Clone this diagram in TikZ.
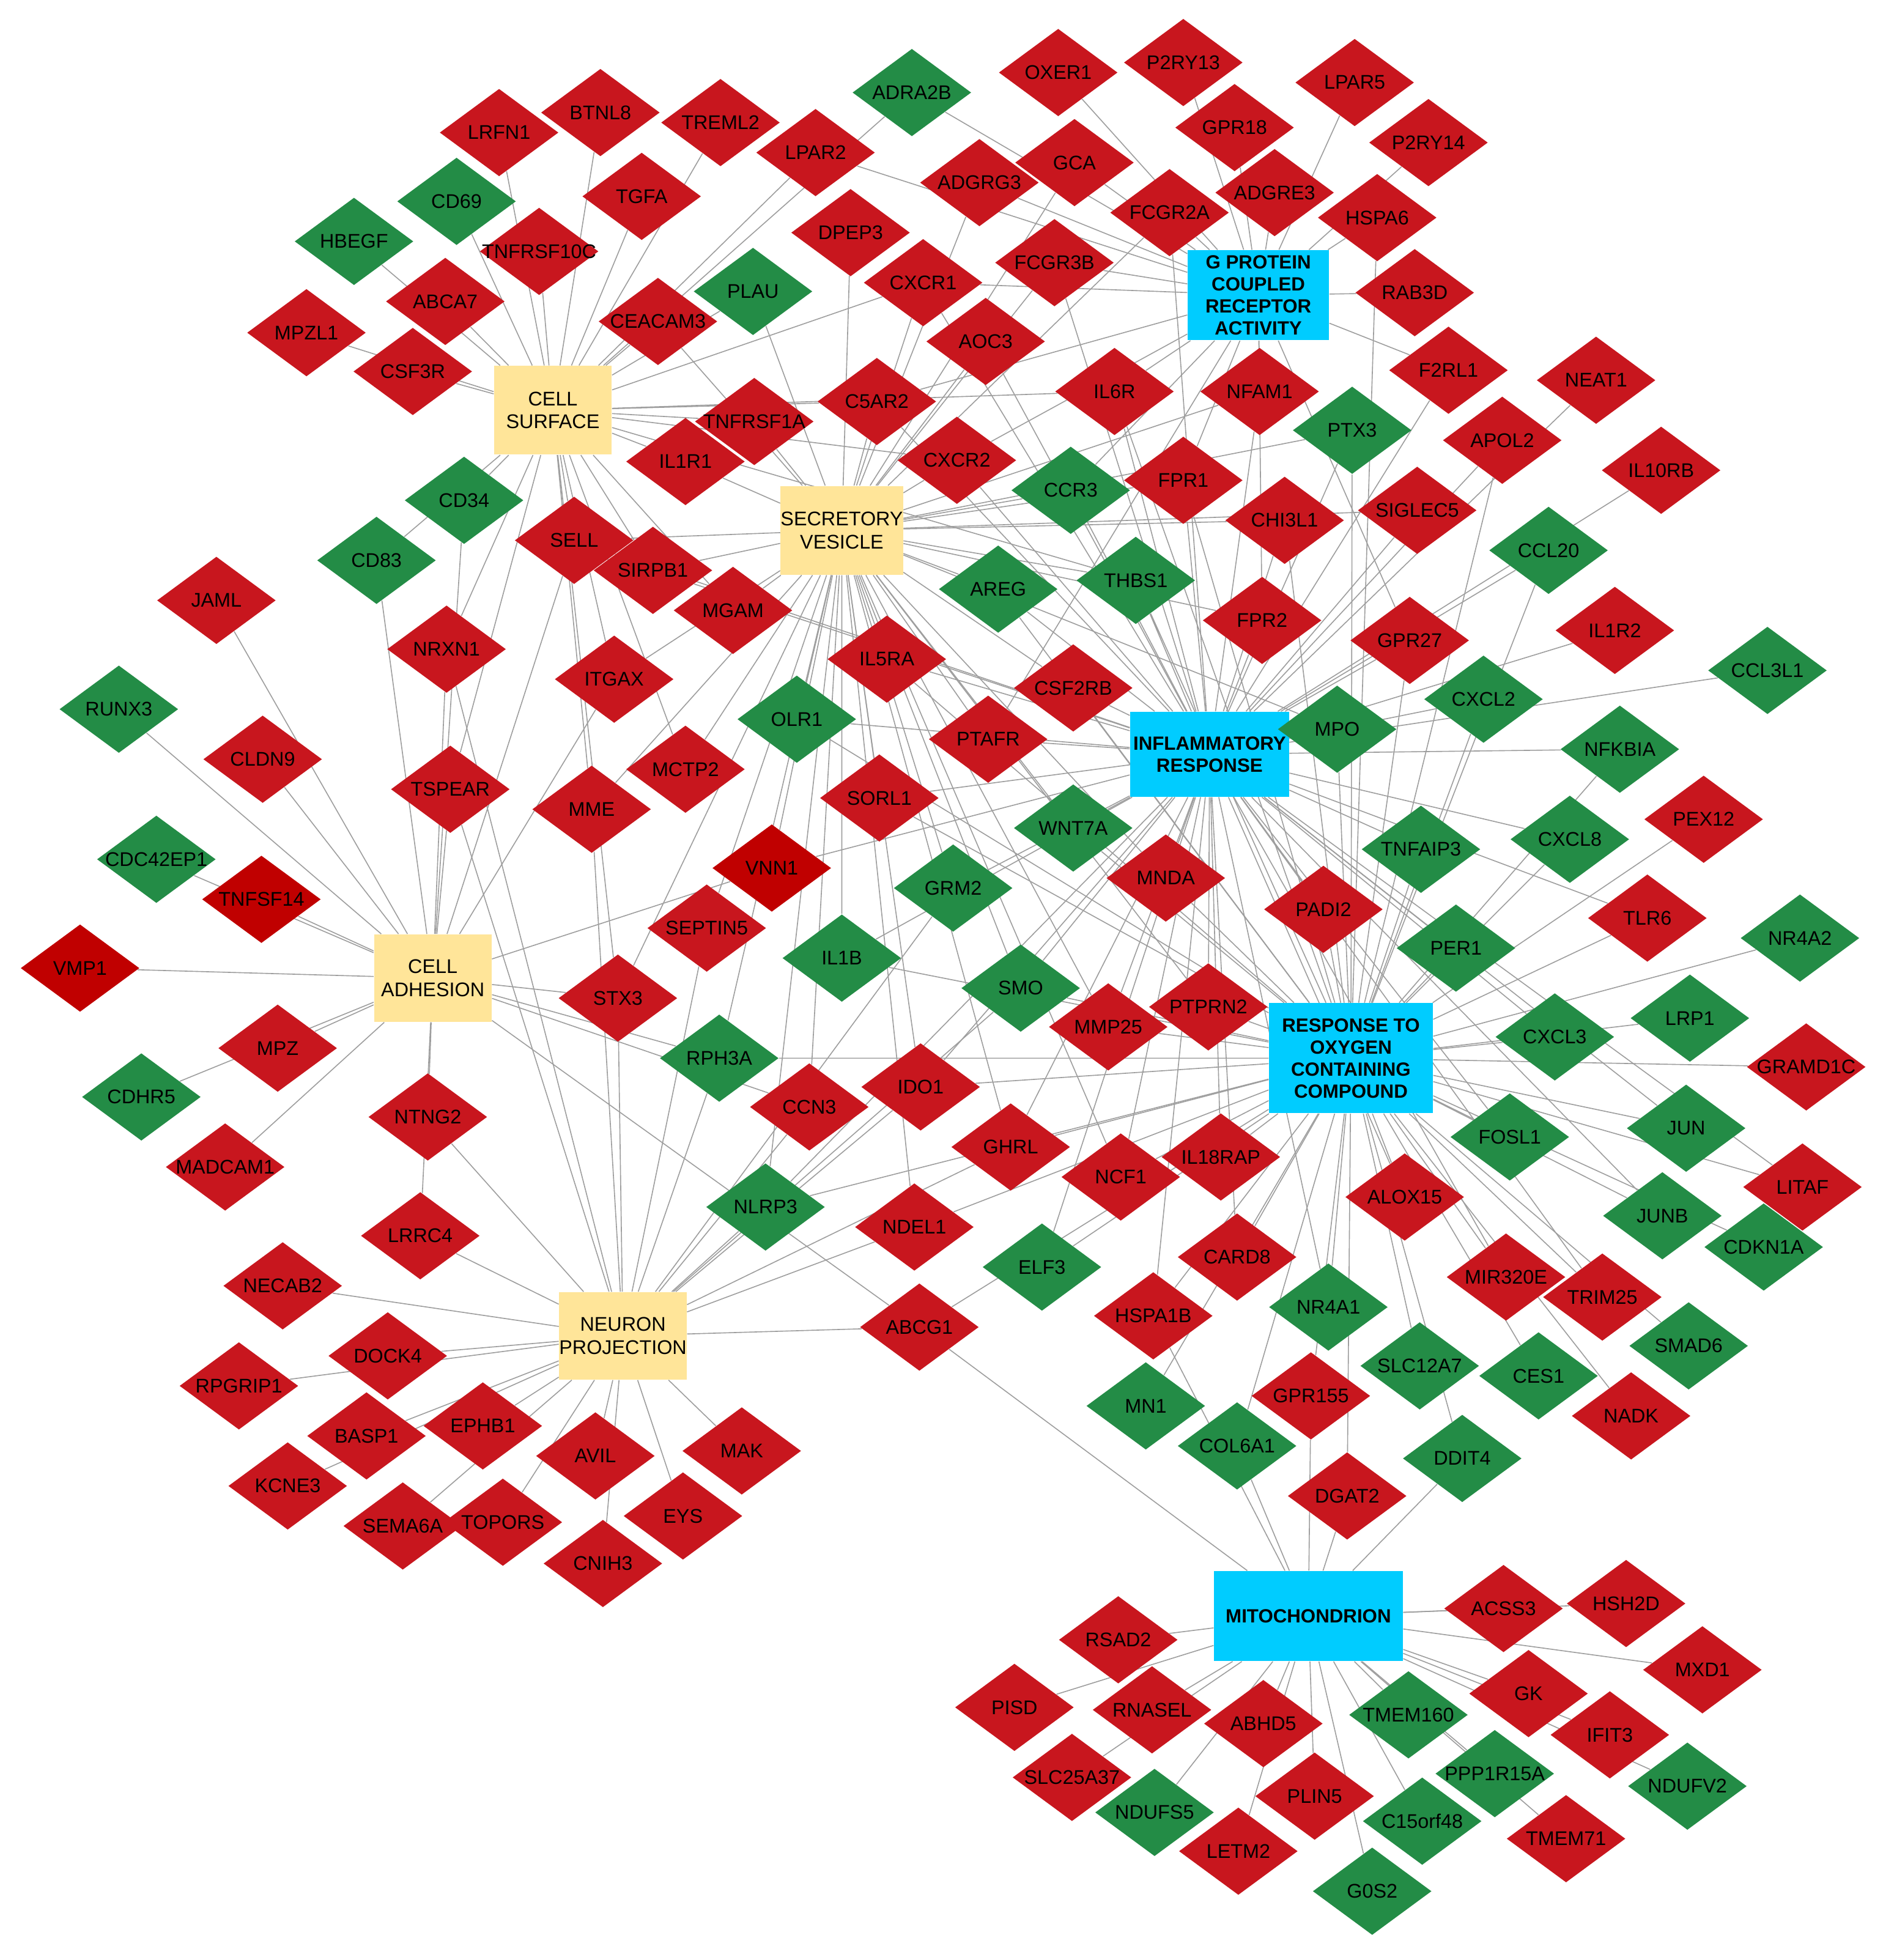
\documentclass[tikz,border=0pt]{standalone}
\usepackage{fontspec}
\setmainfont{Liberation Sans}
\usetikzlibrary{shapes.geometric}
\pgfdeclarelayer{background}
\pgfsetlayers{background,main}
\definecolor{upred}{RGB}{200,22,30}
\definecolor{updark}{RGB}{192,0,0}
\definecolor{downgreen}{RGB}{35,140,70}
\definecolor{termblue}{RGB}{0,204,255}
\definecolor{termyellow}{RGB}{255,229,153}
\newcommand{\gn}[1]{\makebox[0pt]{#1}}
\tikzset{
  gene/.style={diamond, minimum width=1.9cm, minimum height=1.4cm, inner sep=0pt,
    font=\fontsize{9}{10}\selectfont},
  up/.style={gene, fill=upred},
  upd/.style={gene, fill=updark},
  down/.style={gene, fill=downgreen},
  cc/.style={rectangle, fill=termyellow, align=center, inner sep=0pt,
    font=\fontsize{9}{10.5}\selectfont},
  bp/.style={rectangle, fill=termblue, align=center, inner sep=0pt,
    font=\bfseries\fontsize{8.7}{10}\selectfont},
  link/.style={draw=black!38, line width=0.45pt}
}
\begin{document}
\begin{tikzpicture}[x=0.02cm, y=-0.02cm]
\useasboundingbox (0,0) rectangle (1514,1567);
% term nodes
\node[bp, minimum width=2.26cm, minimum height=1.44cm] (gpcr) at (1006,236) {G PROTEIN\\COUPLED\\RECEPTOR\\ACTIVITY};
\node[cc, minimum width=1.88cm, minimum height=1.42cm] (surf) at (442,328) {CELL\\SURFACE};
\node[cc, minimum width=1.88cm, minimum height=1.42cm] (vesic) at (673,424) {SECRETORY\\VESICLE};
\node[bp, minimum width=2.54cm, minimum height=1.36cm] (inflam) at (967,603) {INFLAMMATORY\\RESPONSE};
\node[cc, minimum width=1.88cm, minimum height=1.4cm] (adhes) at (346,782) {CELL\\ADHESION};
\node[bp, minimum width=2.62cm, minimum height=1.76cm] (oxyg) at (1080,846) {RESPONSE TO\\OXYGEN\\CONTAINING\\COMPOUND};
\node[cc, minimum width=1.88cm, minimum height=1.4cm] (neuro) at (498,1068) {NEURON\\PROJECTION};
\node[bp, minimum width=3.02cm, minimum height=1.44cm] (mito) at (1046,1292) {MITOCHONDRION};
% genes
\node[down] (adra2b) at (729,74) {\gn{ADRA2B}};
\node[up] (oxer1) at (846,58) {\gn{OXER1}};
\node[up] (p2ry13) at (946,50) {\gn{P2RY13}};
\node[up] (lpar5) at (1083,66) {\gn{LPAR5}};
\node[up] (p2ry14) at (1142,114) {\gn{P2RY14}};
\node[up] (lrfn1) at (399,106) {\gn{LRFN1}};
\node[up] (btnl8) at (480,90) {\gn{BTNL8}};
\node[up] (treml2) at (576,98) {\gn{TREML2}};
\node[up] (lpar2) at (652,122) {\gn{LPAR2}};
\node[up] (gca) at (859,130) {\gn{GCA}};
\node[up] (gpr18) at (987,102) {\gn{GPR18}};
\node[up] (adgre3) at (1019,154) {\gn{ADGRE3}};
\node[up] (hspa6) at (1101,174) {\gn{HSPA6}};
\node[down] (cd69) at (365,161) {\gn{CD69}};
\node[up] (tgfa) at (513,157) {\gn{TGFA}};
\node[up] (adgrg3) at (783,146) {\gn{ADGRG3}};
\node[up] (fcgr2a) at (935,170) {\gn{FCGR2A}};
\node[down] (hbegf) at (283,193) {\gn{HBEGF}};
\node[up] (tnfrsf10c) at (431,201) {\gn{TNFRSF10C}};
\node[up] (dpep3) at (680,186) {\gn{DPEP3}};
\node[up] (fcgr3b) at (843,210) {\gn{FCGR3B}};
\node[up] (rab3d) at (1131,234) {\gn{RAB3D}};
\node[up] (abca7) at (356,241) {\gn{ABCA7}};
\node[up] (ceacam3) at (526,257) {\gn{CEACAM3}};
\node[down] (plau) at (602,233) {\gn{PLAU}};
\node[up] (cxcr1) at (738,226) {\gn{CXCR1}};
\node[up] (mpzl1) at (245,266) {\gn{MPZL1}};
\node[up] (csf3r) at (330,297) {\gn{CSF3R}};
\node[up] (aoc3) at (788,273) {\gn{AOC3}};
\node[up] (f2rl1) at (1158,296) {\gn{F2RL1}};
\node[up] (neat1) at (1276,304) {\gn{NEAT1}};
\node[up] (il6r) at (891,313) {\gn{IL6R}};
\node[up] (nfam1) at (1007,313) {\gn{NFAM1}};
\node[up] (c5ar2) at (701,321) {\gn{C5AR2}};
\node[up] (tnfrsf1a) at (603,337) {\gn{TNFRSF1A}};
\node[down] (ptx3) at (1081,344) {\gn{PTX3}};
\node[up] (apol2) at (1201,352) {\gn{APOL2}};
\node[up] (il10rb) at (1328,376) {\gn{IL10RB}};
\node[up] (il1r1) at (548,369) {\gn{IL1R1}};
\node[up] (cxcr2) at (765,368) {\gn{CXCR2}};
\node[down] (ccr3) at (856,392) {\gn{CCR3}};
\node[up] (fpr1) at (946,384) {\gn{FPR1}};
\node[up] (chi3l1) at (1027,416) {\gn{CHI3L1}};
\node[up] (siglec5) at (1133,408) {\gn{SIGLEC5}};
\node[down] (cd34) at (371,400) {\gn{CD34}};
\node[down] (cd83) at (301,448) {\gn{CD83}};
\node[up] (sell) at (459,432) {\gn{SELL}};
\node[up] (sirpb1) at (522,456) {\gn{SIRPB1}};
\node[down] (ccl20) at (1238,440) {\gn{CCL20}};
\node[down] (areg) at (798,471) {\gn{AREG}};
\node[down] (thbs1) at (908,464) {\gn{THBS1}};
\node[up] (jaml) at (173,480) {\gn{JAML}};
\node[up] (mgam) at (586,488) {\gn{MGAM}};
\node[up] (fpr2) at (1009,496) {\gn{FPR2}};
\node[up] (gpr27) at (1127,512) {\gn{GPR27}};
\node[up] (il1r2) at (1291,504) {\gn{IL1R2}};
\node[up] (nrxn1) at (357,519) {\gn{NRXN1}};
\node[up] (itgax) at (491,543) {\gn{ITGAX}};
\node[up] (il5ra) at (709,527) {\gn{IL5RA}};
\node[up] (csf2rb) at (858,550) {\gn{CSF2RB}};
\node[down] (ccl3l1) at (1413,536) {\gn{CCL3L1}};
\node[down] (runx3) at (95,567) {\gn{RUNX3}};
\node[down] (olr1) at (637,575) {\gn{OLR1}};
\node[down] (cxcl2) at (1186,559) {\gn{CXCL2}};
\node[down] (mpo) at (1069,583) {\gn{MPO}};
\node[down] (nfkbia) at (1295,599) {\gn{NFKBIA}};
\node[up] (ptafr) at (790,591) {\gn{PTAFR}};
\node[up] (cldn9) at (210,607) {\gn{CLDN9}};
\node[up] (tspear) at (360,631) {\gn{TSPEAR}};
\node[up] (mctp2) at (548,615) {\gn{MCTP2}};
\node[up] (sorl1) at (703,638) {\gn{SORL1}};
\node[up] (mme) at (473,647) {\gn{MME}};
\node[up] (pex12) at (1362,655) {\gn{PEX12}};
\node[down] (wnt7a) at (858,662) {\gn{WNT7A}};
\node[down] (cxcl8) at (1255,671) {\gn{CXCL8}};
\node[down] (tnfaip3) at (1136,679) {\gn{TNFAIP3}};
\node[down] (cdc42ep1) at (125,687) {\gn{CDC42EP1}};
\node[upd] (vnn1) at (617,694) {\gn{VNN1}};
\node[upd] (tnfsf14) at (209,719) {\gn{TNFSF14}};
\node[down] (grm2) at (762,710) {\gn{GRM2}};
\node[up] (mnda) at (932,702) {\gn{MNDA}};
\node[up] (padi2) at (1058,727) {\gn{PADI2}};
\node[up] (tlr6) at (1317,734) {\gn{TLR6}};
\node[down] (nr4a2) at (1439,750) {\gn{NR4A2}};
\node[up] (septin5) at (565,742) {\gn{SEPTIN5}};
\node[down] (il1b) at (673,766) {\gn{IL1B}};
\node[down] (per1) at (1164,758) {\gn{PER1}};
\node[upd] (vmp1) at (64,774) {\gn{VMP1}};
\node[down] (smo) at (816,790) {\gn{SMO}};
\node[up] (stx3) at (494,798) {\gn{STX3}};
\node[up] (ptprn2) at (966,805) {\gn{PTPRN2}};
\node[up] (mmp25) at (886,821) {\gn{MMP25}};
\node[down] (lrp1) at (1351,814) {\gn{LRP1}};
\node[down] (cxcl3) at (1243,829) {\gn{CXCL3}};
\node[up] (gramd1c) at (1444,853) {\gn{GRAMD1C}};
\node[up] (mpz) at (222,838) {\gn{MPZ}};
\node[down] (rph3a) at (575,846) {\gn{RPH3A}};
\node[down] (cdhr5) at (113,877) {\gn{CDHR5}};
\node[up] (ido1) at (736,869) {\gn{IDO1}};
\node[up] (ccn3) at (647,885) {\gn{CCN3}};
\node[up] (ntng2) at (342,893) {\gn{NTNG2}};
\node[down] (fosl1) at (1207,909) {\gn{FOSL1}};
\node[down] (jun) at (1348,902) {\gn{JUN}};
\node[up] (ghrl) at (808,917) {\gn{GHRL}};
\node[up] (ncf1) at (896,941) {\gn{NCF1}};
\node[up] (il18rap) at (976,925) {\gn{IL18RAP}};
\node[up] (madcam1) at (180,933) {\gn{MADCAM1}};
\node[up] (alox15) at (1123,957) {\gn{ALOX15}};
\node[up] (litaf) at (1441,949) {\gn{LITAF}};
\node[down] (nlrp3) at (612,965) {\gn{NLRP3}};
\node[down] (junb) at (1329,972) {\gn{JUNB}};
\node[up] (ndel1) at (731,981) {\gn{NDEL1}};
\node[up] (lrrc4) at (336,988) {\gn{LRRC4}};
\node[down] (cdkn1a) at (1410,997) {\gn{CDKN1A}};
\node[up] (card8) at (989,1005) {\gn{CARD8}};
\node[down] (elf3) at (833,1013) {\gn{ELF3}};
\node[up] (mir320e) at (1204,1021) {\gn{MIR320E}};
\node[up] (trim25) at (1281,1037) {\gn{TRIM25}};
\node[up] (necab2) at (226,1028) {\gn{NECAB2}};
\node[down] (nr4a1) at (1062,1045) {\gn{NR4A1}};
\node[up] (abcg1) at (735,1061) {\gn{ABCG1}};
\node[up] (hspa1b) at (922,1052) {\gn{HSPA1B}};
\node[down] (smad6) at (1350,1076) {\gn{SMAD6}};
\node[up] (dock4) at (310,1084) {\gn{DOCK4}};
\node[down] (slc12a7) at (1135,1092) {\gn{SLC12A7}};
\node[down] (ces1) at (1230,1100) {\gn{CES1}};
\node[up] (rpgrip1) at (191,1108) {\gn{RPGRIP1}};
\node[up] (basp1) at (293,1148) {\gn{BASP1}};
\node[up] (ephb1) at (386,1140) {\gn{EPHB1}};
\node[down] (mn1) at (916,1124) {\gn{MN1}};
\node[up] (gpr155) at (1048,1116) {\gn{GPR155}};
\node[up] (nadk) at (1304,1132) {\gn{NADK}};
\node[up] (mak) at (593,1160) {\gn{MAK}};
\node[up] (avil) at (476,1164) {\gn{AVIL}};
\node[down] (col6a1) at (989,1156) {\gn{COL6A1}};
\node[down] (ddit4) at (1169,1166) {\gn{DDIT4}};
\node[up] (kcne3) at (230,1188) {\gn{KCNE3}};
\node[up] (sema6a) at (322,1220) {\gn{SEMA6A}};
\node[up] (topors) at (402,1217) {\gn{TOPORS}};
\node[up] (eys) at (546,1212) {\gn{EYS}};
\node[up] (dgat2) at (1077,1196) {\gn{DGAT2}};
\node[up] (cnih3) at (482,1250) {\gn{CNIH3}};
\node[up] (acss3) at (1202,1286) {\gn{ACSS3}};
\node[up] (hsh2d) at (1300,1282) {\gn{HSH2D}};
\node[up] (rsad2) at (894,1311) {\gn{RSAD2}};
\node[up] (mxd1) at (1361,1335) {\gn{MXD1}};
\node[up] (pisd) at (811,1365) {\gn{PISD}};
\node[up] (rnasel) at (921,1367) {\gn{RNASEL}};
\node[up] (gk) at (1222,1354) {\gn{GK}};
\node[down] (tmem160) at (1126,1371) {\gn{TMEM160}};
\node[up] (abhd5) at (1010,1378) {\gn{ABHD5}};
\node[up] (ifit3) at (1287,1387) {\gn{IFIT3}};
\node[up] (slc25a37) at (857,1421) {\gn{SLC25A37}};
\node[down] (ppp1r15a) at (1195,1418) {\gn{PPP1R15A}};
\node[down] (ndufv2) at (1349,1428) {\gn{NDUFV2}};
\node[down] (ndufs5) at (923,1449) {\gn{NDUFS5}};
\node[up] (plin5) at (1051,1436) {\gn{PLIN5}};
\node[down] (c15orf48) at (1137,1456) {\gn{C15orf48}};
\node[up] (tmem71) at (1252,1470) {\gn{TMEM71}};
\node[up] (letm2) at (990,1480) {\gn{LETM2}};
\node[down] (g0s2) at (1097,1512) {\gn{G0S2}};
% links
\begin{pgfonlayer}{background}
\draw[link] (adra2b) -- (gpcr) (adra2b) -- (surf);
\draw[link] (oxer1) -- (gpcr);
\draw[link] (p2ry13) -- (gpcr);
\draw[link] (lpar5) -- (gpcr);
\draw[link] (p2ry14) -- (gpcr);
\draw[link] (lrfn1) -- (surf);
\draw[link] (btnl8) -- (surf);
\draw[link] (treml2) -- (surf);
\draw[link] (lpar2) -- (gpcr) (lpar2) -- (surf);
\draw[link] (gca) -- (gpcr) (gca) -- (vesic);
\draw[link] (gpr18) -- (gpcr);
\draw[link] (adgre3) -- (gpcr);
\draw[link] (hspa6) -- (gpcr) (hspa6) -- (oxyg);
\draw[link] (cd69) -- (surf);
\draw[link] (tgfa) -- (surf);
\draw[link] (adgrg3) -- (gpcr) (adgrg3) -- (vesic);
\draw[link] (fcgr2a) -- (gpcr) (fcgr2a) -- (vesic) (fcgr2a) -- (inflam);
\draw[link] (hbegf) -- (surf);
\draw[link] (tnfrsf10c) -- (surf);
\draw[link] (dpep3) -- (vesic);
\draw[link] (fcgr3b) -- (gpcr) (fcgr3b) -- (vesic) (fcgr3b) -- (inflam);
\draw[link] (rab3d) -- (gpcr);
\draw[link] (abca7) -- (surf);
\draw[link] (ceacam3) -- (surf) (ceacam3) -- (vesic);
\draw[link] (plau) -- (surf) (plau) -- (vesic);
\draw[link] (cxcr1) -- (gpcr) (cxcr1) -- (surf) (cxcr1) -- (vesic) (cxcr1) -- (inflam);
\draw[link] (mpzl1) -- (surf);
\draw[link] (csf3r) -- (surf);
\draw[link] (aoc3) -- (vesic) (aoc3) -- (inflam);
\draw[link] (f2rl1) -- (gpcr) (f2rl1) -- (inflam);
\draw[link] (neat1) -- (inflam);
\draw[link] (il6r) -- (gpcr) (il6r) -- (surf) (il6r) -- (inflam) (il6r) -- (oxyg);
\draw[link] (nfam1) -- (gpcr) (nfam1) -- (vesic) (nfam1) -- (inflam);
\draw[link] (c5ar2) -- (gpcr) (c5ar2) -- (surf) (c5ar2) -- (vesic) (c5ar2) -- (inflam);
\draw[link] (tnfrsf1a) -- (surf) (tnfrsf1a) -- (vesic);
\draw[link] (ptx3) -- (vesic) (ptx3) -- (inflam) (ptx3) -- (oxyg);
\draw[link] (apol2) -- (inflam) (apol2) -- (oxyg);
\draw[link] (il10rb) -- (inflam);
\draw[link] (il1r1) -- (surf) (il1r1) -- (vesic);
\draw[link] (cxcr2) -- (gpcr) (cxcr2) -- (surf) (cxcr2) -- (vesic) (cxcr2) -- (inflam);
\draw[link] (ccr3) -- (gpcr) (ccr3) -- (vesic) (ccr3) -- (inflam);
\draw[link] (fpr1) -- (gpcr) (fpr1) -- (vesic) (fpr1) -- (inflam) (fpr1) -- (oxyg);
\draw[link] (chi3l1) -- (vesic) (chi3l1) -- (inflam) (chi3l1) -- (oxyg);
\draw[link] (siglec5) -- (vesic) (siglec5) -- (inflam);
\draw[link] (cd34) -- (surf) (cd34) -- (adhes);
\draw[link] (cd83) -- (surf) (cd83) -- (adhes);
\draw[link] (sell) -- (surf) (sell) -- (vesic) (sell) -- (adhes) (sell) -- (inflam);
\draw[link] (sirpb1) -- (surf) (sirpb1) -- (vesic) (sirpb1) -- (inflam);
\draw[link] (ccl20) -- (inflam) (ccl20) -- (oxyg);
\draw[link] (areg) -- (vesic) (areg) -- (inflam) (areg) -- (oxyg);
\draw[link] (thbs1) -- (surf) (thbs1) -- (vesic) (thbs1) -- (inflam) (thbs1) -- (oxyg);
\draw[link] (jaml) -- (adhes);
\draw[link] (mgam) -- (surf) (mgam) -- (vesic);
\draw[link] (fpr2) -- (gpcr) (fpr2) -- (vesic) (fpr2) -- (inflam);
\draw[link] (gpr27) -- (gpcr) (gpr27) -- (inflam) (gpr27) -- (oxyg);
\draw[link] (il1r2) -- (inflam);
\draw[link] (nrxn1) -- (surf) (nrxn1) -- (adhes) (nrxn1) -- (neuro);
\draw[link] (itgax) -- (surf) (itgax) -- (vesic) (itgax) -- (adhes);
\draw[link] (il5ra) -- (vesic) (il5ra) -- (inflam) (il5ra) -- (oxyg);
\draw[link] (csf2rb) -- (vesic) (csf2rb) -- (inflam) (csf2rb) -- (oxyg);
\draw[link] (ccl3l1) -- (inflam);
\draw[link] (runx3) -- (adhes);
\draw[link] (olr1) -- (vesic) (olr1) -- (inflam) (olr1) -- (oxyg);
\draw[link] (cxcl2) -- (inflam) (cxcl2) -- (oxyg);
\draw[link] (mpo) -- (vesic) (mpo) -- (inflam) (mpo) -- (oxyg);
\draw[link] (nfkbia) -- (inflam) (nfkbia) -- (oxyg);
\draw[link] (ptafr) -- (gpcr) (ptafr) -- (vesic) (ptafr) -- (inflam);
\draw[link] (cldn9) -- (adhes);
\draw[link] (tspear) -- (surf) (tspear) -- (adhes) (tspear) -- (neuro);
\draw[link] (mctp2) -- (surf) (mctp2) -- (vesic);
\draw[link] (sorl1) -- (vesic) (sorl1) -- (inflam) (sorl1) -- (oxyg);
\draw[link] (mme) -- (surf) (mme) -- (vesic) (mme) -- (neuro);
\draw[link] (pex12) -- (oxyg);
\draw[link] (wnt7a) -- (vesic) (wnt7a) -- (inflam) (wnt7a) -- (oxyg);
\draw[link] (cxcl8) -- (inflam) (cxcl8) -- (oxyg);
\draw[link] (tnfaip3) -- (inflam) (tnfaip3) -- (oxyg);
\draw[link] (cdc42ep1) -- (adhes);
\draw[link] (vnn1) -- (vesic) (vnn1) -- (inflam) (vnn1) -- (adhes);
\draw[link] (tnfsf14) -- (adhes);
\draw[link] (grm2) -- (vesic) (grm2) -- (inflam) (grm2) -- (neuro);
\draw[link] (mnda) -- (vesic) (mnda) -- (inflam) (mnda) -- (oxyg);
\draw[link] (padi2) -- (inflam) (padi2) -- (oxyg);
\draw[link] (tlr6) -- (inflam) (tlr6) -- (oxyg);
\draw[link] (nr4a2) -- (oxyg);
\draw[link] (septin5) -- (vesic) (septin5) -- (neuro);
\draw[link] (il1b) -- (vesic) (il1b) -- (inflam) (il1b) -- (oxyg);
\draw[link] (per1) -- (inflam) (per1) -- (oxyg);
\draw[link] (vmp1) -- (adhes);
\draw[link] (smo) -- (vesic) (smo) -- (inflam) (smo) -- (oxyg) (smo) -- (neuro);
\draw[link] (stx3) -- (surf) (stx3) -- (vesic) (stx3) -- (adhes) (stx3) -- (neuro);
\draw[link] (ptprn2) -- (vesic) (ptprn2) -- (inflam) (ptprn2) -- (oxyg);
\draw[link] (mmp25) -- (vesic) (mmp25) -- (inflam) (mmp25) -- (oxyg);
\draw[link] (lrp1) -- (oxyg);
\draw[link] (cxcl3) -- (inflam) (cxcl3) -- (oxyg);
\draw[link] (gramd1c) -- (oxyg);
\draw[link] (mpz) -- (adhes);
\draw[link] (rph3a) -- (vesic) (rph3a) -- (adhes) (rph3a) -- (neuro) (rph3a) -- (oxyg);
\draw[link] (cdhr5) -- (adhes);
\draw[link] (ido1) -- (vesic) (ido1) -- (inflam) (ido1) -- (oxyg) (ido1) -- (neuro);
\draw[link] (ccn3) -- (vesic) (ccn3) -- (adhes) (ccn3) -- (neuro);
\draw[link] (ntng2) -- (adhes) (ntng2) -- (neuro);
\draw[link] (fosl1) -- (inflam) (fosl1) -- (oxyg);
\draw[link] (jun) -- (inflam) (jun) -- (oxyg);
\draw[link] (ghrl) -- (vesic) (ghrl) -- (inflam) (ghrl) -- (oxyg) (ghrl) -- (neuro);
\draw[link] (ncf1) -- (vesic) (ncf1) -- (inflam) (ncf1) -- (oxyg);
\draw[link] (il18rap) -- (inflam) (il18rap) -- (oxyg);
\draw[link] (madcam1) -- (adhes);
\draw[link] (alox15) -- (inflam) (alox15) -- (oxyg);
\draw[link] (litaf) -- (inflam) (litaf) -- (oxyg);
\draw[link] (nlrp3) -- (vesic) (nlrp3) -- (inflam) (nlrp3) -- (oxyg) (nlrp3) -- (neuro);
\draw[link] (junb) -- (inflam) (junb) -- (oxyg);
\draw[link] (ndel1) -- (vesic) (ndel1) -- (oxyg) (ndel1) -- (neuro);
\draw[link] (lrrc4) -- (adhes) (lrrc4) -- (neuro);
\draw[link] (cdkn1a) -- (oxyg);
\draw[link] (card8) -- (inflam) (card8) -- (oxyg);
\draw[link] (elf3) -- (inflam) (elf3) -- (oxyg);
\draw[link] (mir320e) -- (inflam) (mir320e) -- (oxyg);
\draw[link] (trim25) -- (inflam) (trim25) -- (oxyg);
\draw[link] (necab2) -- (neuro);
\draw[link] (nr4a1) -- (inflam) (nr4a1) -- (oxyg);
\draw[link] (abcg1) -- (adhes) (abcg1) -- (oxyg) (abcg1) -- (neuro) (abcg1) -- (mito);
\draw[link] (hspa1b) -- (inflam) (hspa1b) -- (oxyg) (hspa1b) -- (mito);
\draw[link] (smad6) -- (oxyg);
\draw[link] (dock4) -- (neuro);
\draw[link] (slc12a7) -- (oxyg);
\draw[link] (ces1) -- (oxyg);
\draw[link] (rpgrip1) -- (neuro);
\draw[link] (basp1) -- (neuro);
\draw[link] (ephb1) -- (neuro);
\draw[link] (mn1) -- (oxyg);
\draw[link] (gpr155) -- (oxyg) (gpr155) -- (mito);
\draw[link] (nadk) -- (oxyg);
\draw[link] (mak) -- (neuro);
\draw[link] (avil) -- (neuro);
\draw[link] (col6a1) -- (oxyg) (col6a1) -- (mito);
\draw[link] (ddit4) -- (oxyg) (ddit4) -- (mito);
\draw[link] (kcne3) -- (neuro);
\draw[link] (sema6a) -- (neuro);
\draw[link] (topors) -- (neuro);
\draw[link] (eys) -- (neuro);
\draw[link] (dgat2) -- (oxyg) (dgat2) -- (mito);
\draw[link] (cnih3) -- (neuro);
\draw[link] (acss3) -- (mito);
\draw[link] (hsh2d) -- (mito);
\draw[link] (rsad2) -- (mito);
\draw[link] (mxd1) -- (mito);
\draw[link] (pisd) -- (mito);
\draw[link] (rnasel) -- (mito);
\draw[link] (gk) -- (mito);
\draw[link] (tmem160) -- (mito);
\draw[link] (abhd5) -- (mito);
\draw[link] (ifit3) -- (mito);
\draw[link] (slc25a37) -- (mito);
\draw[link] (ppp1r15a) -- (mito);
\draw[link] (ndufv2) -- (mito);
\draw[link] (ndufs5) -- (mito);
\draw[link] (plin5) -- (mito);
\draw[link] (c15orf48) -- (mito);
\draw[link] (tmem71) -- (mito);
\draw[link] (letm2) -- (mito);
\draw[link] (g0s2) -- (mito);
\end{pgfonlayer}
\end{tikzpicture}
\end{document}
